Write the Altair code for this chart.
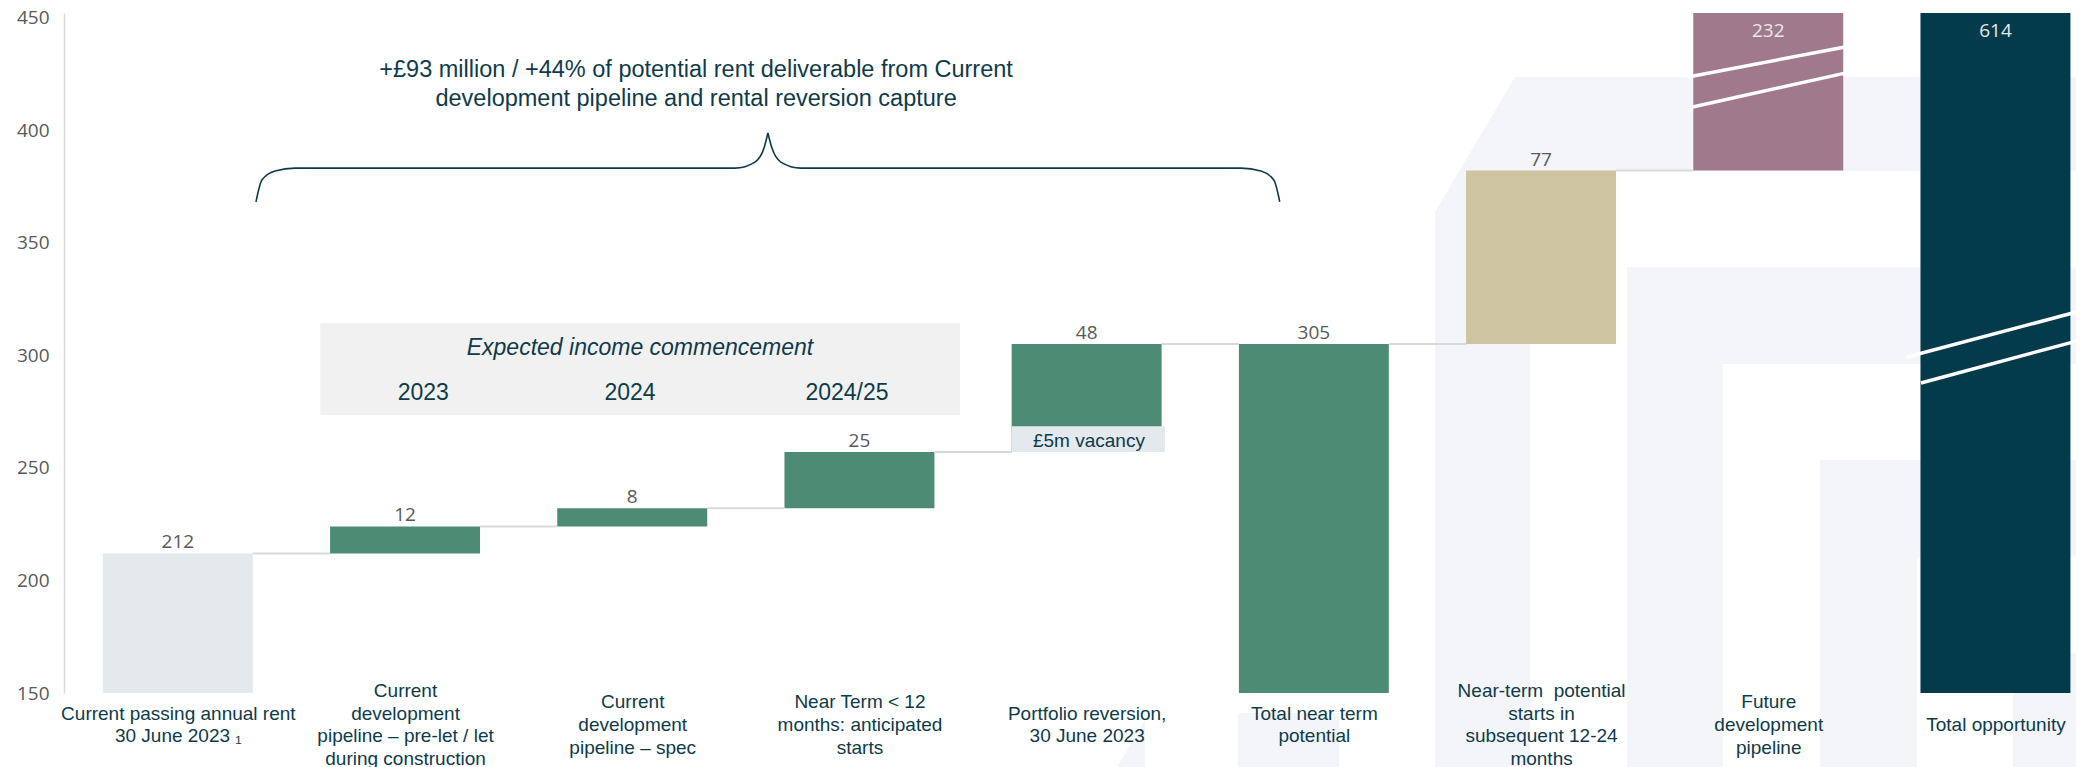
import json
import altair as alt
import pandas as pd

# ---------------- data ----------------
categories = [
    "Current passing annual rent|30 June 2023 \u2081",
    "Current|development|pipeline \u2013 pre-let / let|during construction",
    "Current|development|pipeline \u2013 spec",
    "Near Term < 12|months: anticipated|starts",
    "Portfolio reversion,|30 June 2023",
    "Total near term|potential",
    "Near-term \u00a0potential|starts in|subsequent 12-24|months",
    "Future|development|pipeline",
    "Total opportunity",
]
values = [212, 12, 8, 25, 48, 305, 77, 232, 614]
kinds = ["base", "step", "step", "step", "step", "total", "near", "future", "grand"]
axis_floor = 150

# vacancy band shown at the bottom of the portfolio-reversion bar
vacancy_text = "\u00a35m vacancy"
vacancy_lo, vacancy_hi = 257, 268.5

header_text = "+\u00a393 million / +44% of potential rent deliverable from Current\ndevelopment pipeline and rental reversion capture"
box_title = "Expected income commencement"
box_years = ["2023", "2024", "2024/25"]
box_year_pos = [1.08, 1.99, 2.945]

# bracket (slot units on x, value units on y)
brace_u = [0.344, 0.370, 0.428, 0.516, 2.453, 2.540, 2.580, 2.597,
           2.597, 2.615, 2.654, 2.742, 4.679, 4.767, 4.824, 4.850]
brace_v = [368.1, 377.8, 381.8, 383.1, 383.1, 385.8, 392.0, 398.7,
           398.7, 392.0, 385.8, 383.1, 383.1, 381.8, 377.8, 368.1]
brace_part = ["L"] * 8 + ["R"] * 8

# axis-break strokes on the clipped bars
break_u1 = [6.647, 6.647, 7.611, 7.672]
break_u2 = [7.338, 7.338, 8.390, 8.390]
break_v1 = [423.6, 409.8, 299.2, 287.7]
break_v2 = [436.9, 425.3, 320.1, 307.2]

# decorative background blocks
bg_u1 = [5.951, 6.378, 6.378, 7.228, 7.228, 8.077, 4.666]
bg_u2 = [8.400, 8.400, 6.800, 8.400, 7.655, 8.400, 5.111]
bg_v1 = [423.6, 339.2, 296.1, 253.5, 210.4, 167.8, 141.1]
bg_v2 = [381.8, 296.1, 110.0, 210.4, 110.0, 110.0, 110.0]
bg_area_u = [5.533, 5.885, 5.951]
bg_area_top = [363.6, 423.6, 423.6]
bg_area_bot = [110.0, 110.0, 110.0]
bg_wedge_u = [4.134, 4.257]
bg_wedge_top = [117.1, 138.0]
bg_wedge_bot = [110.0, 110.0]

# ---------------- derived tables ----------------
TEXT = "#0E3B4A"
GREY = "#595959"
half = 0.33

rows = []
running = 0
for i, (v, k) in enumerate(zip(values, kinds)):
    if k in ("base", "total", "grand"):
        lo, hi = axis_floor, v
        running = v
    else:
        lo, hi = running, running + v
        running = hi
    rows.append(dict(i=i, x1=i - half, x2=i + half, lo=lo, hi=hi, kind=k,
                     label=str(v)))
bars = pd.DataFrame(rows)

conn = pd.DataFrame([dict(x1=r["i"] + half, x2=r["i"] + 1 - half, y=r["hi"])
                     for r in rows[:7]])

U0, U1 = -0.501, 8.3545
V0, V1 = 150, 452
xs = alt.Scale(domain=[U0, U1], nice=False, zero=False)
ys = alt.Scale(domain=[V0, V1], nice=False, zero=False)

# vertical centring of multi-line tick labels
LINE_H = 22.7
CENTER = 31.6
nlines = [c.count("|") + 1 for c in categories]
conds = []
for n in sorted(set(nlines)):
    if n == 1:
        continue
    idx = [i for i, m in enumerate(nlines) if m == n]
    test = " || ".join(f"datum.value == {i}" for i in idx)
    conds.append({"test": test, "value": CENTER - (n - 1) * LINE_H / 2})
label_pad = {"condition": conds, "value": CENTER}

label_expr = "split(" + json.dumps(categories, ensure_ascii=False) + "[datum.value], '|')"
xaxis = alt.Axis(values=list(range(9)), labelExpr=label_expr, domain=False,
                 ticks=False, tickSize=0, grid=False, labelPadding=label_pad,
                 labelBaseline="middle", labelLineHeight=LINE_H,
                 labelFont="Liberation Sans", labelFontSize=19,
                 labelColor=TEXT, labelLimit=0, labelOverlap=False,
                 labelFlush=False, labelAlign="center", title=None, zindex=1)
yaxis = alt.Axis(values=[150, 200, 250, 300, 350, 400, 450], domain=True,
                 domainColor="#D9D9D9", domainWidth=1.5, ticks=False,
                 tickSize=0, grid=False, labelPadding=15,
                 labelFont="Open Sans", labelFontSize=19, labelColor=GREY,
                 title=None, labelFlush=False)


def X(f):
    return alt.X(f, type="quantitative", scale=xs, axis=xaxis)


def Y(f):
    return alt.Y(f, type="quantitative", scale=ys, axis=yaxis)


BG = "#F3F5F8"
bg_rects = alt.Chart(pd.DataFrame(dict(u1=bg_u1, u2=bg_u2, v1=bg_v1, v2=bg_v2))).mark_rect(
    color=BG).encode(x=X("u1"), x2="u2", y=Y("v1"), y2="v2")
bg_area = alt.Chart(pd.DataFrame(dict(u=bg_area_u, t=bg_area_top, b=bg_area_bot))).mark_area(
    color=BG, opacity=1).encode(x=X("u"), y=Y("t"), y2="b")
bg_wedge = alt.Chart(pd.DataFrame(dict(u=bg_wedge_u, t=bg_wedge_top, b=bg_wedge_bot))).mark_area(
    color=BG, opacity=1).encode(x=X("u"), y=Y("t"), y2="b")

box = alt.Chart(pd.DataFrame(dict(u1=[0.627], u2=[3.443], v1=[314.3], v2=[273.5]))).mark_rect(
    color="#F1F1F1").encode(x=X("u1"), x2="u2", y=Y("v1"), y2="v2")

bar_layer = alt.Chart(bars).mark_rect(clip=True).encode(
    x=X("x1"), x2="x2", y=Y("lo"), y2="hi",
    color=alt.Color("kind:N", legend=None, scale=alt.Scale(
        domain=["base", "step", "total", "near", "future", "grand"],
        range=["#E4E9EE", "#4D8B74", "#4D8B74", "#CFC4A1", "#A07A8A", "#033B4A"])))

vac = alt.Chart(pd.DataFrame(dict(u1=[4 - half], u2=[4 + half + 0.015], v1=[vacancy_lo], v2=[vacancy_hi]))).mark_rect(
    color="#E4E9EE").encode(x=X("u1"), x2="u2", y=Y("v1"), y2="v2")

conn_layer = alt.Chart(conn).mark_rule(color="#D9D9D9", strokeWidth=2).encode(
    x=X("x1"), x2="x2", y=Y("y"))

breaks = alt.Chart(pd.DataFrame(dict(u1=break_u1, u2=break_u2, v1=break_v1, v2=break_v2))).mark_rule(
    color="#FFFFFF", strokeWidth=3.5).encode(x=X("u1"), x2="u2", y=Y("v1"), y2="v2")

vis = bars[bars["hi"] <= V1].assign(u=lambda d: d["i"])
val_labels = alt.Chart(vis).mark_text(font="Open Sans", fontSize=19, color=GREY,
                                      baseline="alphabetic", dy=-5).encode(
    x=X("u"), y=Y("hi"), text="label:N")

inside = bars[bars["hi"] > V1].assign(u=lambda d: d["i"], t=441.3)
in_labels = alt.Chart(inside).mark_text(font="Open Sans", fontSize=19, color="#E9E9E9",
                                        baseline="alphabetic").encode(
    x=X("u"), y=Y("t"), text="label:N")

vac_text = alt.Chart(pd.DataFrame(dict(u=[4.01], v=[259.4], t=[vacancy_text]))).mark_text(
    font="Liberation Sans", fontSize=19, color=TEXT, baseline="alphabetic").encode(
    x=X("u"), y=Y("v"), text="t:N")

box_t = alt.Chart(pd.DataFrame(dict(u=[2.034], v=[300.1], t=[box_title]))).mark_text(
    font="Liberation Sans", fontSize=23, fontStyle="italic", color=TEXT,
    baseline="alphabetic").encode(x=X("u"), y=Y("v"), text="t:N")

years = alt.Chart(pd.DataFrame(dict(u=box_year_pos, v=[280.1] * 3, t=box_years))).mark_text(
    font="Liberation Sans", fontSize=23, color=TEXT, baseline="alphabetic").encode(
    x=X("u"), y=Y("v"), text="t:N")

header = alt.Chart(pd.DataFrame(dict(u=[2.281], v=[423.6], t=[header_text]))).mark_text(
    font="Liberation Sans", fontSize=23.5, color=TEXT, baseline="alphabetic",
    lineBreak="\n", lineHeight=29).encode(x=X("u"), y=Y("v"), text="t:N")

brace = alt.Chart(pd.DataFrame(dict(u=brace_u, v=brace_v, p=brace_part))).mark_line(
    color="#0E3B4A", strokeWidth=1.6, interpolate="monotone").encode(
    x=X("u"), y=Y("v"), detail="p:N")

chart = alt.layer(
    bg_rects, bg_area, bg_wedge, box, bar_layer, vac, conn_layer, breaks,
    val_labels, in_labels, vac_text, box_t, years, header, brace,
).properties(
    width=2012, height=680,
    autosize=alt.AutoSizeParams(type="none"),
    padding={"left": 56, "top": 5, "right": 0, "bottom": 74},
    background="#FFFFFF",
).configure_view(stroke=None)

chart.save("out.html", embed_options={"renderer": "svg", "actions": False})
